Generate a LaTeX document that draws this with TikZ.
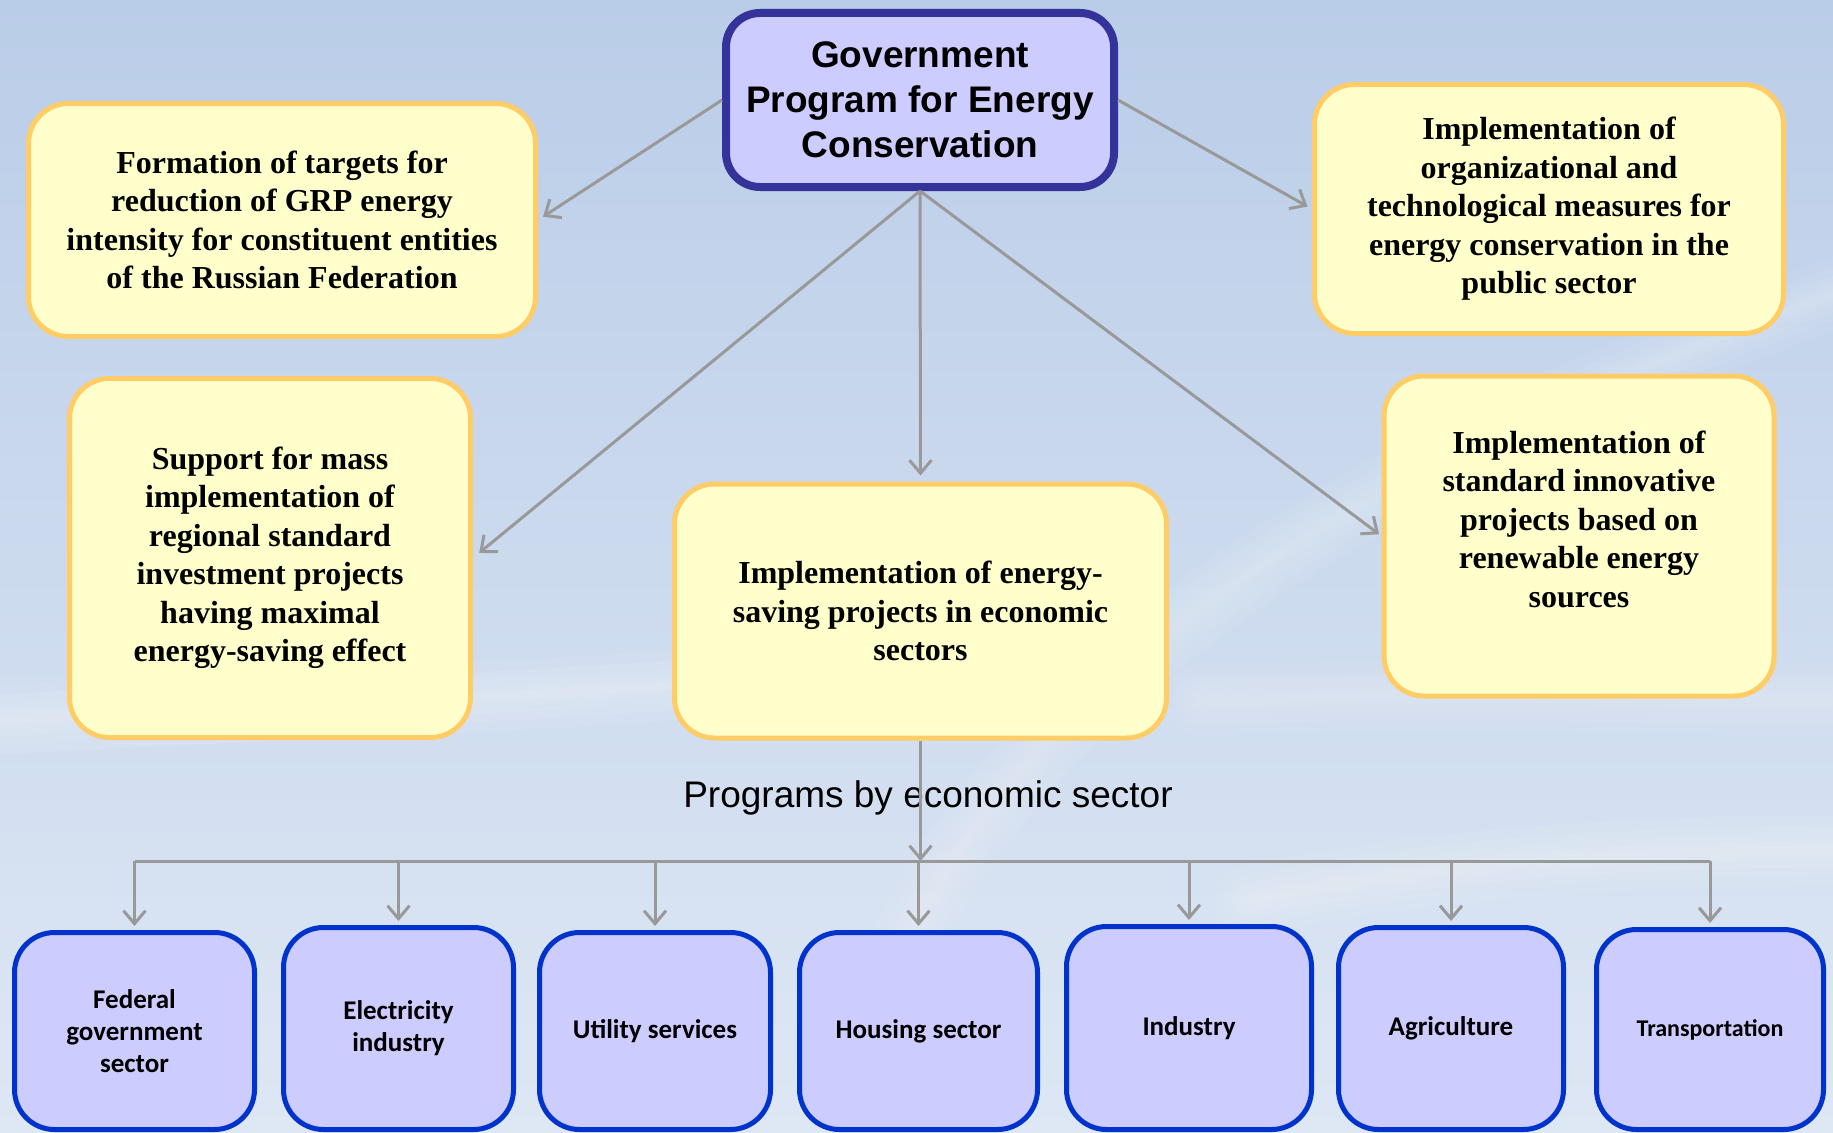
\documentclass[tikz,border=0pt]{standalone}
\usepackage{fontspec}
\setmainfont{Liberation Serif}
\newfontfamily\arialf{Liberation Sans}
\newfontfamily\calf{Carlito}
\usetikzlibrary{arrows.meta,calc}
\definecolor{topblue}{RGB}{51,51,153}
\definecolor{lav}{RGB}{204,204,255}
\definecolor{yel}{RGB}{255,255,204}
\definecolor{orb}{RGB}{255,204,102}
\definecolor{bblue}{RGB}{0,51,204}
\definecolor{arrgray}{RGB}{153,153,153}
\definecolor{bgtop}{RGB}{186,205,232}
\definecolor{bgbot}{RGB}{222,231,244}
\begin{document}
\begin{tikzpicture}[x=1pt,y=-1pt,
  topbox/.style={draw=topblue, line width=8pt, fill=lav, rounded corners=34pt,
    align=center, inner sep=0pt, font={\arialf\bfseries\fontsize{37}{45}\selectfont}},
  ybox/.style={draw=orb, line width=5pt, fill=yel, rounded corners=40pt,
    align=center, inner sep=0pt, font={\bfseries\fontsize{32}{38.5}\selectfont}},
  ytext/.style={align=center, inner sep=0pt, font={\bfseries\fontsize{32}{38.5}\selectfont}},
  sbox/.style={draw=bblue, line width=5pt, fill=lav, rounded corners=40pt,
    align=center, inner sep=0pt, font={\calf\bfseries\fontsize{27}{32}\selectfont}},
  arr/.style={draw=arrgray, line width=3pt, -{Straight Barb[length=13pt,width=22pt]}},
  bus/.style={draw=arrgray, line width=3pt},
  swoosh/.style={white, line cap=round}
]
\useasboundingbox (0,0) rectangle (1833,1132);
\fill[top color=bgtop, bottom color=bgbot] (0,0) rectangle (1833,1132);
% decorative soft light swooshes of the background
\begin{scope}
\clip (0,0) rectangle (1833,1132);
\foreach \w in {70,50,34,20,9}{
  \draw[swoosh, opacity=0.07, line width=\w pt] (-40,722) .. controls (300,700) and (650,700) .. (900,660);
  \draw[swoosh, opacity=0.06, line width=\w pt] (880,1000) .. controls (1000,700) and (1300,480) .. (1900,270);
  \draw[swoosh, opacity=0.07, line width=\w pt] (1250,900) .. controls (1450,860) and (1650,850) .. (1900,850);
  \draw[swoosh, opacity=0.05, line width=\w pt] (1200,700) .. controls (1450,690) and (1650,700) .. (1900,700);
}
\end{scope}

\node[topbox, minimum width=388pt, minimum height=174pt] (top) at (920,100)
  {Government\\Program for Energy\\Conservation};

\node[ybox, minimum width=507pt, minimum height=233pt] (b1) at (282,220)
  {Formation of targets for\\reduction of GRP energy\\intensity for constituent entities\\of the Russian Federation};
\node[ybox, minimum width=469pt, minimum height=249pt] (b2) at (1549,209)
  {Implementation of\\organizational and\\technological measures for\\energy conservation in the\\public sector};
\node[ybox, minimum width=401pt, minimum height=359pt] (b3) at (270,558)
  {Support for mass\\implementation of\\regional standard\\investment projects\\having maximal\\energy-saving effect};
\node[ybox, minimum width=492pt, minimum height=254pt] (b4) at (920.5,611)
  {Implementation of energy-\\saving projects in economic\\sectors};
\node[ybox, minimum width=390pt, minimum height=320pt] (b5) at (1579,536) {};
\node[ytext] (b5t) at ($(b5.center)+(0,-17)$)
  {Implementation of\\standard innovative\\projects based on\\renewable energy\\sources};

\node[sbox, minimum width=240pt, minimum height=197pt] (s1) at (134.5,1031) {Federal\\government\\sector};
\node[sbox, minimum width=230pt, minimum height=202pt] (s2) at (398.5,1028.5) {Electricity\\industry};
\node[sbox, minimum width=231pt, minimum height=197pt] (s3) at (655,1031) {Utility services};
\node[sbox, minimum width=238pt, minimum height=197pt] (s4) at (918.5,1031) {Housing sector};
\node[sbox, minimum width=245pt, minimum height=203pt] (s5) at (1189,1028) {Industry};
\node[sbox, minimum width=225pt, minimum height=202pt] (s6) at (1451,1028.5) {Agriculture};
\node[sbox, minimum width=227pt, minimum height=200pt, font={\calf\bfseries\fontsize{24}{31}\selectfont}] (s7) at (1710,1029.5) {Transportation};

\node[font={\arialf\fontsize{37}{44}\selectfont}, inner sep=0pt] (lbl) at (928,798) {Programs by economic sector};

% connectors
\draw[arr, shorten >=6pt] (top.west) -- (b1.east);
\draw[arr, shorten >=5pt] (top.east) -- (b2.west);
\draw[arr, shorten >=8pt] (top.south) -- (b3.east);
\draw[arr, shorten >=6pt] (top.south) -- (b4.north);
\draw[arr, shorten >=3pt] (top.south) -- (b5.west);

\coordinate (busc) at (920,861);
\draw[arr] (b4.south) -- (b4.south |- busc);
\draw[bus] (s1.north |- busc) -- (s7.north |- busc);
\foreach \s in {s1,s2,s3,s4,s5,s6,s7}
  \draw[arr, shorten >=4pt] (\s.north |- busc) -- (\s.north);
\end{tikzpicture}
\end{document}
